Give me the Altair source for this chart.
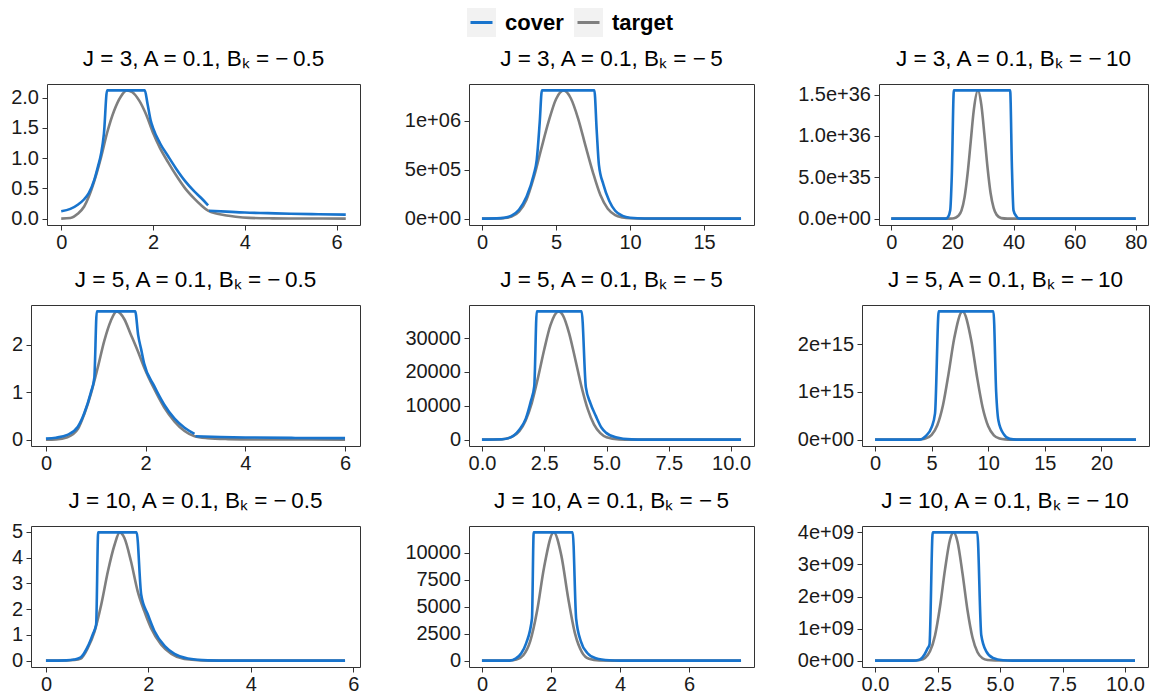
import altair as alt
import pandas as pd

FONT = "Liberation Sans"
BLUE = "#1874CD"
GREY = "#7F7F7F"

series_names = ["cover", "target"]
series_colors = [BLUE, GREY]

panel_titles = [
    "J = 3, A = 0.1, B\u2096 = \u2212\u20090.5",
    "J = 3, A = 0.1, B\u2096 = \u2212\u20095",
    "J = 3, A = 0.1, B\u2096 = \u2212\u200910",
    "J = 5, A = 0.1, B\u2096 = \u2212\u20090.5",
    "J = 5, A = 0.1, B\u2096 = \u2212\u20095",
    "J = 5, A = 0.1, B\u2096 = \u2212\u200910",
    "J = 10, A = 0.1, B\u2096 = \u2212\u20090.5",
    "J = 10, A = 0.1, B\u2096 = \u2212\u20095",
    "J = 10, A = 0.1, B\u2096 = \u2212\u200910",
]

# ---- panel 1: J=3, B=-0.5
p1_tx = [0, 0.2, 0.36, 0.5, 0.6, 0.72, 0.87, 1.0, 1.15, 1.3, 1.43, 1.55, 1.7, 1.85, 2.0, 2.15, 2.33, 2.5, 2.7, 2.9, 3.05, 3.2, 3.4, 3.6, 3.8, 4.1, 4.6, 5.2, 6.2]
p1_ty = [0, 0.01, 0.08, 0.2, 0.36, 0.62, 1.02, 1.42, 1.78, 2.02, 2.12, 2.09, 1.95, 1.72, 1.42, 1.17, 0.93, 0.72, 0.5, 0.33, 0.22, 0.13, 0.08, 0.05, 0.03, 0.012, 0.004, 0.001, 0]
p1_cx = [0, 0.2, 0.36, 0.5, 0.6, 0.72, 0.8, 0.87, 0.93, 1.0, 1.82, 1.88, 1.95, 2.0, 2.15, 2.33, 2.5, 2.7, 2.9, 3.05, 3.2, 3.22, 3.6, 4.0, 4.5, 5.0, 5.6, 6.2]
p1_cy = [0.12, 0.16, 0.23, 0.32, 0.42, 0.64, 0.86, 1.08, 1.4, 2.12, 2.12, 1.9, 1.62, 1.5, 1.25, 1.03, 0.83, 0.62, 0.45, 0.34, 0.22, 0.13, 0.115, 0.1, 0.09, 0.08, 0.072, 0.065]
p1_cs = [0, 0, 0, 0, 0, 0, 0, 0, 0, 0, 0, 0, 0, 0, 0, 0, 0, 0, 0, 0, 0, 1, 1, 1, 1, 1, 1, 1]
p1_xticks = [0, 2, 4, 6]
p1_yticks = [0, 0.5, 1.0, 1.5, 2.0]

# ---- panel 2: J=3, B=-5
p2_tx = [0, 1, 1.5, 2, 2.5, 3, 3.5, 4, 4.5, 5, 5.52, 6, 6.5, 7, 7.5, 8, 8.5, 9, 9.5, 10, 11, 17.5]
p2_ty = [0, 1e3, 5e3, 2e4, 7e4, 1.9e5, 4.2e5, 7.1e5, 9.9e5, 1.22e6, 1.31e6, 1.23e6, 1.02e6, 7.4e5, 4.7e5, 2.4e5, 1.0e5, 3.5e4, 1.2e4, 3e3, 0, 0]
p2_cx = [0, 1, 1.5, 2, 2.5, 3, 3.5, 3.7, 3.9, 4.05, 7.59, 7.75, 7.9, 8.2, 8.6, 9.0, 9.5, 10, 11, 17.5]
p2_cy = [0, 2e3, 8e3, 3e4, 9e4, 2.2e5, 4.5e5, 6.0e5, 9.8e5, 1.31e6, 1.31e6, 9e5, 5.5e5, 3.5e5, 1.8e5, 8e4, 2.8e4, 9e3, 1e3, 0]
p2_cs = [0] * len(p2_cx)
p2_xticks = [0, 5, 10, 15]
p2_yticks = [0, 5e5, 1e6]

# ---- panel 3: J=3, B=-10
p3_tx = [0, 18, 20, 21, 22, 23, 24, 25, 26, 27, 28.35, 29.5, 30.5, 31.5, 32.5, 33.5, 34.5, 36, 38, 80]
p3_ty = [0, 0, 2e33, 1e34, 3.5e34, 1.0e35, 2.6e35, 5.5e35, 9.3e35, 1.31e36, 1.552e36, 1.37e36, 1.01e36, 6.2e35, 3.1e35, 1.3e35, 4.5e34, 6e33, 0, 0]
p3_cx = [0, 17.8, 18.6, 19.3, 19.8, 20.5, 38.9, 39.5, 40.0, 40.9, 42, 80]
p3_cy = [0, 0, 2e34, 1e35, 5e35, 1.552e36, 1.552e36, 6e35, 1e35, 3e34, 0, 0]
p3_cs = [0] * len(p3_cx)
p3_xticks = [0, 20, 40, 60, 80]
p3_yticks = [0, 5e35, 1e36, 1.5e36]

# ---- panel 4: J=5, B=-0.5
p4_tx = [0, 0.2, 0.43, 0.64, 0.77, 0.9, 1.04, 1.17, 1.3, 1.42, 1.57, 1.7, 1.84, 1.97, 2.17, 2.37, 2.58, 2.78, 2.98, 3.24, 3.65, 4.2, 6]
p4_ty = [0, 0.005, 0.05, 0.22, 0.54, 0.96, 1.52, 2.08, 2.5, 2.7, 2.54, 2.22, 1.87, 1.52, 1.07, 0.68, 0.38, 0.18, 0.07, 0.03, 0.01, 0.002, 0]
p4_cx = [0, 0.2, 0.43, 0.64, 0.77, 0.9, 0.97, 1.02, 1.79, 1.85, 1.91, 1.97, 2.17, 2.37, 2.58, 2.78, 2.98, 3.0, 3.5, 4.0, 5.0, 6.0]
p4_cy = [0.02, 0.04, 0.1, 0.27, 0.56, 0.99, 1.3, 2.7, 2.7, 2.2, 1.9, 1.6, 1.13, 0.74, 0.44, 0.25, 0.12, 0.07, 0.055, 0.045, 0.035, 0.03]
p4_cs = [0, 0, 0, 0, 0, 0, 0, 0, 0, 0, 0, 0, 0, 0, 0, 0, 0, 1, 1, 1, 1, 1]
p4_xticks = [0, 2, 4, 6]
p4_yticks = [0, 1, 2]

# ---- panel 5: J=5, B=-5
p5_tx = [0, 0.8, 1.0, 1.25, 1.5, 1.75, 2.0, 2.25, 2.5, 2.75, 3.08, 3.25, 3.5, 3.75, 4.0, 4.25, 4.5, 4.75, 5.0, 5.5, 6.0, 10.4]
p5_ty = [0, 60, 300, 1000, 2500, 5600, 10800, 18300, 26600, 33800, 37860, 36700, 31400, 23600, 15500, 8900, 4400, 1900, 700, 70, 0, 0]
p5_cx = [0, 0.8, 1.1, 1.5, 1.76, 1.96, 2.1, 2.2, 4.0, 4.17, 4.35, 4.57, 4.8, 4.97, 5.37, 6.0, 6.5, 10.4]
p5_cy = [0, 80, 500, 2900, 6200, 11300, 15800, 37860, 37860, 15500, 10800, 7000, 3500, 2100, 700, 60, 0, 0]
p5_cs = [0] * len(p5_cx)
p5_xticks = [0, 2.5, 5, 7.5, 10]
p5_yticks = [0, 10000, 20000, 30000]

# ---- panel 6: J=5, B=-10
p6_tx = [0, 3.5, 4, 4.5, 5, 5.5, 6, 6.5, 7, 7.73, 8.5, 9, 9.5, 10, 10.5, 11, 11.5, 12, 23.05]
p6_ty = [0, 0, 6e12, 2.8e13, 1.0e14, 3.0e14, 7.2e14, 1.39e15, 2.13e15, 2.69e15, 2.08e15, 1.33e15, 6.8e14, 2.8e14, 9e13, 2.5e13, 5e12, 0, 0]
p6_cx = [0, 3.9, 4.5, 5.0, 5.3, 5.63, 10.46, 10.7, 10.9, 11.35, 11.9, 12.5, 23.05]
p6_cy = [0, 0, 8e13, 2.6e14, 5.5e14, 2.69e15, 2.69e15, 1.0e15, 4.0e14, 1.2e14, 1.5e13, 0, 0]
p6_cs = [0] * len(p6_cx)
p6_xticks = [0, 5, 10, 15, 20]
p6_yticks = [0, 1e15, 2e15]

# ---- panel 7: J=10, B=-0.5
p7_tx = [0, 0.4, 0.55, 0.68, 0.82, 0.95, 1.08, 1.21, 1.34, 1.44, 1.53, 1.66, 1.79, 1.92, 2.05, 2.25, 2.45, 2.7, 3.03, 3.5, 5.84]
p7_ty = [0, 0.002, 0.02, 0.08, 0.5, 1.14, 2.18, 3.47, 4.5, 4.98, 4.77, 3.86, 2.7, 1.92, 1.27, 0.62, 0.26, 0.06, 0.01, 0, 0]
p7_cx = [0, 0.4, 0.55, 0.68, 0.82, 0.91, 0.98, 1.02, 1.77, 1.86, 1.99, 2.12, 2.32, 2.51, 2.77, 3.16, 3.6, 5.84]
p7_cy = [0, 0.01, 0.04, 0.13, 0.56, 1.0, 1.4, 4.98, 4.98, 2.56, 1.79, 1.14, 0.56, 0.26, 0.08, 0.01, 0, 0]
p7_cs = [0] * len(p7_cx)
p7_xticks = [0, 2, 4, 6]
p7_yticks = [0, 1, 2, 3, 4, 5]

# ---- panel 8: J=10, B=-5
p8_tx = [0, 0.8, 1.0, 1.2, 1.4, 1.6, 1.8, 2.08, 2.3, 2.5, 2.7, 2.9, 3.1, 3.4, 3.8, 7.51]
p8_ty = [0, 5, 100, 500, 1800, 4640, 8630, 11880, 9750, 5780, 2470, 765, 170, 10, 0, 0]
p8_cx = [0, 0.8, 0.99, 1.14, 1.28, 1.45, 1.5, 2.63, 2.73, 2.87, 3.06, 3.3, 3.69, 4.0, 7.51]
p8_cy = [0, 0, 216, 680, 1600, 3900, 11880, 11880, 3900, 1760, 680, 216, 30, 0, 0]
p8_cs = [0] * len(p8_cx)
p8_xticks = [0, 2, 4, 6]
p8_yticks = [0, 2500, 5000, 7500, 10000]

# ---- panel 9: J=10, B=-10
p9_tx = [0, 1.5, 1.8, 2.0, 2.2, 2.4, 2.6, 2.8, 3.0, 3.14, 3.3, 3.5, 3.7, 3.9, 4.1, 4.3, 4.5, 4.8, 10.4]
p9_ty = [0, 0, 1.9e7, 8.3e7, 2.9e8, 7.8e8, 1.68e9, 2.84e9, 3.77e9, 4.0e9, 3.71e9, 2.72e9, 1.57e9, 7.2e8, 2.6e8, 7.3e7, 1.6e7, 1e6, 0]
p9_cx = [0, 1.5, 1.78, 1.98, 2.11, 2.18, 2.31, 4.09, 4.25, 4.45, 4.72, 5.12, 5.5, 10.4]
p9_cy = [0, 0, 3e7, 1.9e8, 3.9e8, 5e8, 4.0e9, 4.0e9, 8e8, 2.9e8, 8e7, 1e7, 0, 0]
p9_cs = [0] * len(p9_cx)
p9_xticks = [0, 2.5, 5, 7.5, 10]
p9_yticks = [0, 1e9, 2e9, 3e9, 4e9]

PLOT_H = 141
TICK_FS = 20
TITLE_FS = 22.5
BASE_TITLE_OFFSET = -4.5


def sci_expr(fmt):
    return (
        f"datum.value < 1e10 ? replace(format(datum.value, '{fmt}'), 'e+', 'e+0')"
        f" : format(datum.value, '{fmt}')"
    )


def spacer(width):
    return alt.Chart(pd.DataFrame({"v": [0]})).mark_point(size=0, opacity=0).properties(
        width=width, height=1, view=alt.ViewBackground(stroke="transparent", strokeWidth=0))


def make_panel(title, tx, ty, cx, cy, cs, xticks, yticks, xfmt, yfmt, width, extent):
    tdf = pd.DataFrame({"x": tx, "y": ty, "series": "target", "seg": 0})
    cdf = pd.DataFrame({"x": cx, "y": cy, "series": "cover", "seg": cs})
    xs = list(tx) + list(cx)
    ys = list(ty) + list(cy)
    xmin, xmax = min(xs), max(xs)
    ymin, ymax = min(ys), max(ys)
    xp = 0.05 * (xmax - xmin)
    yp = 0.05 * (ymax - ymin)
    ylo, yhi = ymin - yp, ymax + yp
    xscale = alt.Scale(domain=[xmin - xp, xmax + xp], nice=False, zero=False)
    yscale = alt.Scale(domain=[ylo, yhi], nice=False, zero=False)
    # keep all titles on one baseline: compensate for a top tick label that pokes above the frame
    dist_top = (yhi - max(yticks)) / (yhi - ylo) * PLOT_H
    overshoot = max(0.0, TICK_FS / 2 - dist_top)
    common = dict(
        title=None, grid=False, domain=False, ticks=True, tickSize=5, tickWidth=1,
        tickColor="#333333", labelFont=FONT, labelFontSize=TICK_FS, labelColor="#1a1a1a",
        labelOverlap=False, labelFlush=False,
    )
    xaxis = alt.Axis(values=xticks, format=xfmt, labelPadding=2, **common)
    if yfmt.endswith("e"):
        yaxis = alt.Axis(values=yticks, labelExpr=sci_expr(yfmt), labelPadding=3.5,
                         minExtent=extent, maxExtent=extent, **common)
    else:
        yaxis = alt.Axis(values=yticks, format=yfmt, labelPadding=3.5,
                         minExtent=extent, maxExtent=extent, **common)
    color = alt.Color("series:N", scale=alt.Scale(domain=series_names, range=series_colors), legend=None)
    X = alt.X("x:Q", scale=xscale, axis=xaxis)
    Y = alt.Y("y:Q", scale=yscale, axis=yaxis)
    target = alt.Chart(tdf).mark_line(strokeWidth=2.6, interpolate="monotone").encode(
        x=X, y=Y, color=color)
    cover = alt.Chart(cdf).mark_line(strokeWidth=2.6, interpolate="monotone").encode(
        x=X, y=Y, color=color, detail="seg:N")
    return alt.layer(target, cover).properties(
        width=width, height=PLOT_H,
        title=alt.TitleParams(text=title, font=FONT, fontSize=TITLE_FS, fontWeight="normal",
                              color="black", anchor="middle", frame="group",
                              baseline="alphabetic", offset=BASE_TITLE_OFFSET - overshoot),
    )


specs = [
    (p1_tx, p1_ty, p1_cx, p1_cy, p1_cs, p1_xticks, p1_yticks, "d", ".1f", 313, 37),
    (p2_tx, p2_ty, p2_cx, p2_cy, p2_cs, p2_xticks, p2_yticks, "d", ".0e", 285, 107),
    (p3_tx, p3_ty, p3_cx, p3_cy, p3_cs, p3_xticks, p3_yticks, "d", ".1e", 269, 123),
    (p4_tx, p4_ty, p4_cx, p4_cy, p4_cs, p4_xticks, p4_yticks, "d", "d", 329, 21),
    (p5_tx, p5_ty, p5_cx, p5_cy, p5_cs, p5_xticks, p5_yticks, ".1f", "d", 285, 107),
    (p6_tx, p6_ty, p6_cx, p6_cy, p6_cs, p6_xticks, p6_yticks, "d", ".0e", 287, 106),
    (p7_tx, p7_ty, p7_cx, p7_cy, p7_cs, p7_xticks, p7_yticks, "d", "d", 329, 21),
    (p8_tx, p8_ty, p8_cx, p8_cy, p8_cs, p8_xticks, p8_yticks, "d", "d", 285, 107),
    (p9_tx, p9_ty, p9_cx, p9_cy, p9_cs, p9_xticks, p9_yticks, ".1f", ".0e", 286, 106),
]

panels = [make_panel(panel_titles[i], *specs[i]) for i in range(9)]

rows = [
    alt.hconcat(spacer(1), *panels[r * 3:(r + 1) * 3], spacing=0).resolve_scale(
        x="independent", y="independent", color="independent")
    for r in range(3)
]
grid = alt.vconcat(*rows, spacing=15).resolve_scale(
    x="independent", y="independent", color="independent")

# ---- custom legend (ggplot style: grey key boxes, line keys, bold labels)
leg_df = pd.DataFrame({"series": series_names, "label": series_names})
LX = alt.X("series:N", scale=alt.Scale(type="point", domain=series_names, range=[14.5, 121.5], padding=0), axis=None)
leg_color = alt.Color("series:N", scale=alt.Scale(domain=series_names, range=series_colors), legend=None)
leg_box = alt.Chart(leg_df).mark_square(size=841, color="#F2F2F2", opacity=1).encode(x=LX)
leg_line = alt.Chart(leg_df).mark_point(shape="stroke", size=484, strokeWidth=3, opacity=1).encode(
    x=LX, color=leg_color)
leg_text = alt.Chart(leg_df).mark_text(align="left", baseline="middle", dx=23.5, fontSize=22,
                                      fontWeight="bold", font=FONT, color="black").encode(
    x=LX, text="label:N")
legend = alt.layer(leg_box, leg_line, leg_text).properties(
    width=210, height=29, view=alt.ViewBackground(stroke="transparent", strokeWidth=0))
legend_row = alt.hconcat(spacer(456), legend, spacing=0).resolve_scale(
    x="independent", color="independent")

chart = (
    alt.vconcat(legend_row, grid, spacing=10)
    .resolve_scale(x="independent", y="independent", color="independent")
    .properties(padding=0)
    .configure(font=FONT)
    .configure_view(stroke="#333333", strokeWidth=1)
)

chart.save("out.html", embed_options={"renderer": "svg", "actions": False})
